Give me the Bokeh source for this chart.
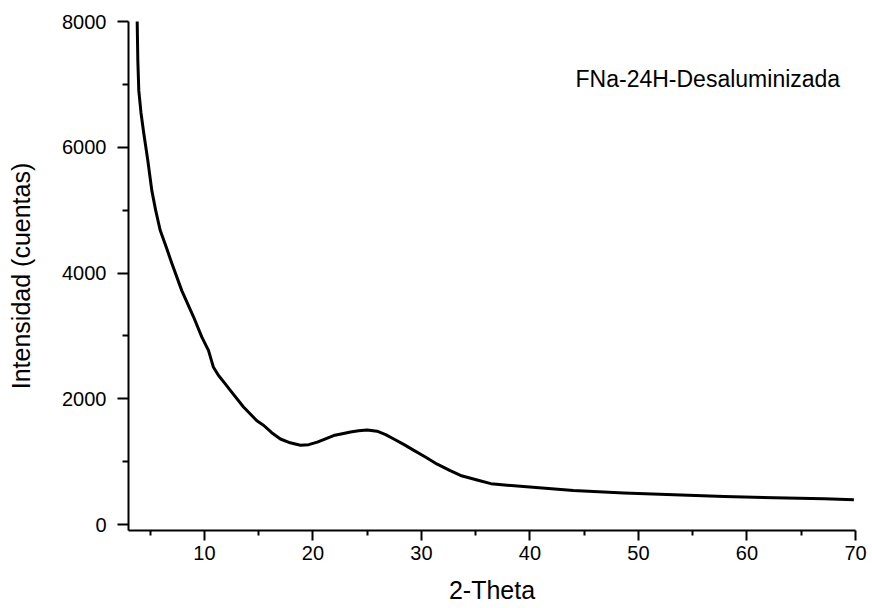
from bokeh.plotting import figure
from bokeh.models import Range1d, FixedTicker, Label
from bokeh.embed import file_html
from bokeh.resources import INLINE

# Values
two_theta = [3.70, 3.80, 3.86, 3.95, 4.15, 4.41, 4.78, 5.15, 5.5, 5.92, 6.5, 7.0,
             7.91, 9.0, 9.76, 10.37, 10.83, 11.3, 11.9, 12.4, 13.6, 14.83,
             15.47, 16.2, 17.0, 17.9, 18.85, 19.6, 20.4, 21.1, 21.9, 22.7, 23.46,
             24.2, 25.0, 25.9, 26.7, 27.45, 28.4, 29.3, 30.4, 31.45, 32.6, 33.6,
             35.3, 36.4, 37.9, 39.4, 44.0, 48.65, 53.26, 57.9, 62.5, 67.1, 69.85]
intensity = [8400, 8000, 7380, 6900, 6550, 6220, 5790, 5310, 5000, 4680, 4400, 4150,
             3720, 3300, 2980, 2770, 2500, 2370, 2240, 2130, 1870, 1650,
             1575, 1460, 1360, 1300, 1260, 1270, 1310, 1360, 1415, 1445, 1470,
             1490, 1505, 1485, 1430, 1360, 1270, 1180, 1070, 960, 860, 780,
             700, 650, 625, 605, 540, 500, 475, 445, 425, 408, 393]
x_major = [10, 20, 30, 40, 50, 60, 70]
x_minor = [5, 15, 25, 35, 45, 55, 65]
y_major = [0, 2000, 4000, 6000, 8000]
y_minor = [1000, 3000, 5000, 7000]
sample_label = "FNa-24H-Desaluminizada"
x_title = "2-Theta"
y_title = "Intensidad (cuentas)"

FONT = "Liberation Sans"

p = figure(width=872, height=608, output_backend="svg", toolbar_location=None,
           x_range=Range1d(3, 70), y_range=Range1d(-95, 8000),
           min_border_left=128, min_border_right=17,
           min_border_top=21, min_border_bottom=78)
p.outline_line_color = None
p.background_fill_color = "white"
p.border_fill_color = "white"
p.xgrid.visible = False
p.ygrid.visible = False

p.line(two_theta, intensity, line_color="black", line_width=3, line_join="round")

for ax in (p.xaxis[0], p.yaxis[0]):
    ax.axis_line_width = 2
    ax.axis_line_color = "black"
    ax.major_tick_line_width = 2
    ax.minor_tick_line_width = 2
    ax.major_tick_line_color = "black"
    ax.minor_tick_line_color = "black"
    ax.major_tick_in = 0
    ax.minor_tick_in = 0
    ax.major_label_text_font = FONT
    ax.major_label_text_font_size = "20px"
    ax.major_label_text_color = "black"
    ax.axis_label_text_font = FONT
    ax.axis_label_text_font_style = "normal"
    ax.axis_label_text_color = "black"
    ax.axis_label_text_font_size = "25px"

p.xaxis[0].ticker = FixedTicker(ticks=x_major, minor_ticks=x_minor)
p.yaxis[0].ticker = FixedTicker(ticks=y_major, minor_ticks=y_minor)
p.xaxis[0].major_tick_out = 10
p.xaxis[0].minor_tick_out = 5
p.yaxis[0].major_tick_out = 11
p.yaxis[0].minor_tick_out = 6
p.xaxis[0].major_label_standoff = 5
p.yaxis[0].major_label_standoff = 11
p.xaxis[0].axis_label = x_title
p.yaxis[0].axis_label = y_title
p.xaxis[0].axis_label_standoff = 13
p.yaxis[0].axis_label_standoff = 24

p.add_layout(Label(x=44.2, y=7080, text=sample_label, text_font=FONT,
                   text_font_size="23px", text_color="black",
                   text_baseline="middle", text_align="left"))

open("out.html", "w").write(file_html(p, INLINE))
